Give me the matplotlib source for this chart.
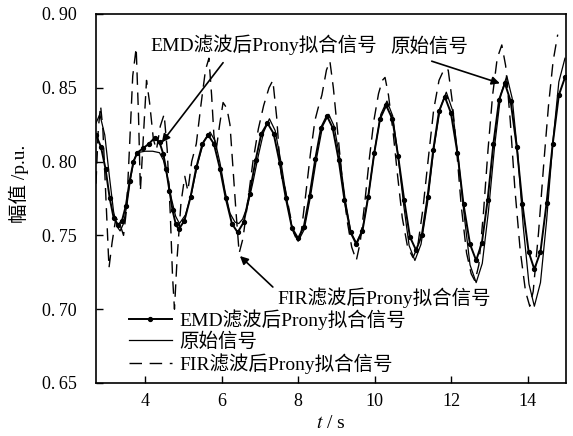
import matplotlib
matplotlib.use("Agg")
import matplotlib.pyplot as plt

plt.rcParams['font.family'] = ['Liberation Serif', 'Noto Sans CJK SC']
plt.rcParams['mathtext.fontset'] = 'stix'
plt.rcParams['axes.unicode_minus'] = False

# ---------------- data ----------------
emd_t = [2.72, 2.85, 2.97, 3.08, 3.18, 3.30, 3.40, 3.50, 3.60, 3.70, 3.80, 3.95,
         4.10, 4.25, 4.38, 4.48, 4.55, 4.64, 4.72, 4.80, 4.88, 5.03, 5.19, 5.34,
         5.50, 5.65, 5.80, 5.96, 6.11, 6.27, 6.42, 6.58, 6.73, 6.89, 7.04, 7.20,
         7.36, 7.52, 7.68, 7.84, 8.00, 8.15, 8.30, 8.45, 8.60, 8.75, 8.90, 9.06,
         9.21, 9.37, 9.52, 9.68, 9.83, 9.99, 10.14, 10.30, 10.46, 10.61, 10.77,
         10.92, 11.08, 11.23, 11.38, 11.53, 11.68, 11.83, 11.99, 12.16, 12.32,
         12.49, 12.65, 12.80, 12.95, 13.10, 13.25, 13.40, 13.55, 13.71, 13.86,
         14.02, 14.17, 14.33, 14.49, 14.65, 14.81, 14.97]
emd_v = [0.818, 0.810, 0.795, 0.775, 0.762, 0.757, 0.760, 0.770, 0.787, 0.800, 0.806, 0.809,
         0.812, 0.816, 0.813, 0.805, 0.795, 0.780, 0.767, 0.758, 0.754, 0.760, 0.776, 0.796,
         0.812, 0.818, 0.812, 0.795, 0.775, 0.758, 0.752, 0.759, 0.778, 0.801, 0.819, 0.826,
         0.819, 0.799, 0.775, 0.755, 0.748, 0.756, 0.777, 0.802, 0.823, 0.831, 0.823, 0.801,
         0.774, 0.752, 0.744, 0.753, 0.776, 0.806, 0.829, 0.838, 0.829, 0.804, 0.774,
         0.749, 0.740, 0.750, 0.776, 0.808, 0.834, 0.844, 0.833, 0.806, 0.771,
         0.744, 0.733, 0.745, 0.774, 0.812, 0.842, 0.853, 0.841, 0.810, 0.771,
         0.739, 0.727, 0.739, 0.772, 0.812, 0.845, 0.857]

orig_t = [2.72, 2.82, 2.95, 3.07, 3.18, 3.27, 3.35, 3.44, 3.53, 3.62, 3.71, 3.80,
          4.00, 4.20, 4.38, 4.48, 4.59, 4.69, 4.80, 4.90, 5.06, 5.22, 5.38, 5.54,
          5.70, 5.83, 5.96, 6.09, 6.22, 6.35, 6.45, 6.55, 6.68, 6.82, 6.96, 7.10,
          7.25, 7.40, 7.55, 7.70, 7.85, 8.00, 8.16, 8.32, 8.48, 8.64, 8.80, 8.94,
          9.09, 9.23, 9.38, 9.52, 9.68, 9.84, 10.00, 10.16, 10.32, 10.47, 10.61,
          10.76, 10.90, 11.05, 11.21, 11.38, 11.54, 11.71, 11.87, 12.03, 12.18,
          12.34, 12.49, 12.65, 12.81, 12.97, 13.13, 13.29, 13.45, 13.59, 13.74,
          13.88, 14.03, 14.17, 14.33, 14.49, 14.65, 14.81, 14.97]
orig_v = [0.826, 0.832, 0.818, 0.790, 0.766, 0.756, 0.753, 0.758, 0.771, 0.788, 0.801, 0.806,
          0.807, 0.807, 0.806, 0.801, 0.789, 0.775, 0.763, 0.758, 0.764, 0.779, 0.799, 0.814,
          0.820, 0.814, 0.799, 0.780, 0.765, 0.759, 0.758, 0.761, 0.770, 0.786, 0.804, 0.820,
          0.829, 0.821, 0.800, 0.775, 0.754, 0.746, 0.754, 0.776, 0.802, 0.824, 0.832, 0.824,
          0.802, 0.774, 0.752, 0.745, 0.754, 0.778, 0.808, 0.832, 0.841, 0.831, 0.804,
          0.770, 0.743, 0.733, 0.744, 0.772, 0.808, 0.836, 0.847, 0.835, 0.803,
          0.763, 0.730, 0.718, 0.731, 0.766, 0.810, 0.845, 0.858, 0.843, 0.804,
          0.756, 0.717, 0.702, 0.718, 0.760, 0.812, 0.854, 0.870]

fir_t = [2.72, 2.78, 2.84, 2.90, 2.98, 3.06, 3.14, 3.24, 3.34, 3.44, 3.52, 3.60,
         3.68, 3.77, 3.83, 3.88, 3.96, 4.04, 4.12, 4.22, 4.30, 4.40, 4.50, 4.58,
         4.66, 4.72, 4.77, 4.84, 4.94, 5.04, 5.12, 5.22, 5.34, 5.46, 5.58, 5.67,
         5.74, 5.80, 5.86, 5.95, 6.04, 6.14, 6.22, 6.30, 6.38, 6.46, 6.56, 6.68,
         6.82, 6.96, 7.10, 7.24, 7.34, 7.44, 7.52, 7.58, 7.66, 7.76, 7.88, 7.98,
         8.08, 8.20, 8.32, 8.44, 8.52, 8.62, 8.74, 8.83, 8.92, 9.04, 9.16, 9.28,
         9.40, 9.52, 9.62, 9.74, 9.86, 9.98, 10.10, 10.20, 10.27, 10.36, 10.48,
         10.60, 10.72, 10.86, 11.00, 11.12, 11.26, 11.40, 11.54, 11.68, 11.82,
         11.92, 12.02, 12.14, 12.26, 12.40, 12.52, 12.62, 12.72, 12.84, 12.96,
         13.08, 13.20, 13.32, 13.42, 13.54, 13.66, 13.80, 13.94, 14.05, 14.14,
         14.28, 14.42, 14.54, 14.66, 14.78]
fir_v = [0.785, 0.822, 0.838, 0.822, 0.775, 0.728, 0.745, 0.762, 0.758, 0.750, 0.768, 0.812,
         0.858, 0.877, 0.832, 0.780, 0.818, 0.855, 0.840, 0.815, 0.808, 0.824, 0.832, 0.808,
         0.765, 0.722, 0.700, 0.735, 0.772, 0.790, 0.780, 0.800, 0.812, 0.838, 0.862, 0.870,
         0.845, 0.818, 0.808, 0.825, 0.840, 0.836, 0.825, 0.795, 0.765, 0.738, 0.748, 0.772,
         0.800, 0.822, 0.838, 0.850, 0.855, 0.830, 0.800, 0.788, 0.782, 0.768, 0.752, 0.746,
         0.752, 0.778, 0.805, 0.828, 0.836, 0.845, 0.862, 0.868, 0.850, 0.818, 0.786, 0.760,
         0.742, 0.733, 0.745, 0.772, 0.802, 0.828, 0.846, 0.855, 0.857, 0.845, 0.820,
         0.790, 0.762, 0.742, 0.735, 0.742, 0.768, 0.802, 0.835, 0.855, 0.863,
         0.862, 0.842, 0.808, 0.770, 0.738, 0.724, 0.719, 0.730, 0.765, 0.808,
         0.845, 0.870, 0.879, 0.865, 0.828, 0.782, 0.740, 0.712, 0.702, 0.712,
         0.752, 0.800, 0.838, 0.868, 0.886]

xticks = [4, 6, 8, 10, 12, 14]
yticks = [0.65, 0.70, 0.75, 0.80, 0.85, 0.90]
ytick_labels = ['0.\u200965', '0.\u200970', '0.\u200975', '0.\u200980',
                '0.\u200985', '0.\u200990']

lbl_emd = 'EMD滤波后Prony拟合信号'
lbl_orig = '原始信号'
lbl_fir = 'FIR滤波后Prony拟合信号'

FS = 14

# ---------------- figure ----------------
fig = plt.figure(figsize=(5.73, 4.36), dpi=100)
ax = fig.add_axes([0.1675, 0.1216, 0.8205, 0.8464])

ax.plot(emd_t, emd_v, color='black', lw=1.4, marker='o', markersize=2.8,
        label=lbl_emd)
ax.plot(orig_t, orig_v, color='black', lw=0.9, label=lbl_orig)
ax.plot(fir_t, fir_v, color='black', lw=1.0, dashes=(9, 5.5), label=lbl_fir)

ax.set_xlim(2.72, 15.0)
ax.set_ylim(0.65, 0.90)
ax.set_xticks(xticks)
ax.set_xticklabels([str(v) for v in xticks])
ax.set_yticks(yticks)
ax.set_yticklabels(ytick_labels)
ax.tick_params(direction='in', length=5, width=1, labelsize=13,
               top=False, right=False)
ax.tick_params(axis='y', pad=14)
ax.tick_params(axis='x', pad=7)
for s in ax.spines.values():
    s.set_linewidth(1.2)

ax.set_xlabel('$t$ / s', fontsize=14, labelpad=4)
ax.set_ylabel('幅值 /p.u.', fontsize=14)
ax.yaxis.set_label_coords(-0.142, 0.54)

arrow_kw = dict(arrowstyle='-|>', color='black', lw=1.2,
                mutation_scale=12, shrinkA=0, shrinkB=0)
ax.text(4.13, 0.879, lbl_emd, fontsize=FS, ha='left', va='center')
ax.annotate('', xy=(4.44, 0.813), xytext=(6.04, 0.867), arrowprops=arrow_kw)
ax.text(10.40, 0.878, lbl_orig, fontsize=FS, ha='left', va='center')
ax.annotate('', xy=(13.27, 0.853), xytext=(11.49, 0.868), arrowprops=arrow_kw)
ax.text(7.45, 0.708, lbl_fir, fontsize=FS, ha='left', va='center')
ax.annotate('', xy=(6.48, 0.736), xytext=(7.34, 0.715), arrowprops=arrow_kw)

leg = ax.legend(loc='lower left', bbox_to_anchor=(0.07, 0.025), frameon=False,
                fontsize=FS, handlelength=2.2, handletextpad=0.4,
                labelspacing=0.12, borderaxespad=0, borderpad=0)

fig.savefig('out.png', dpi=100)
